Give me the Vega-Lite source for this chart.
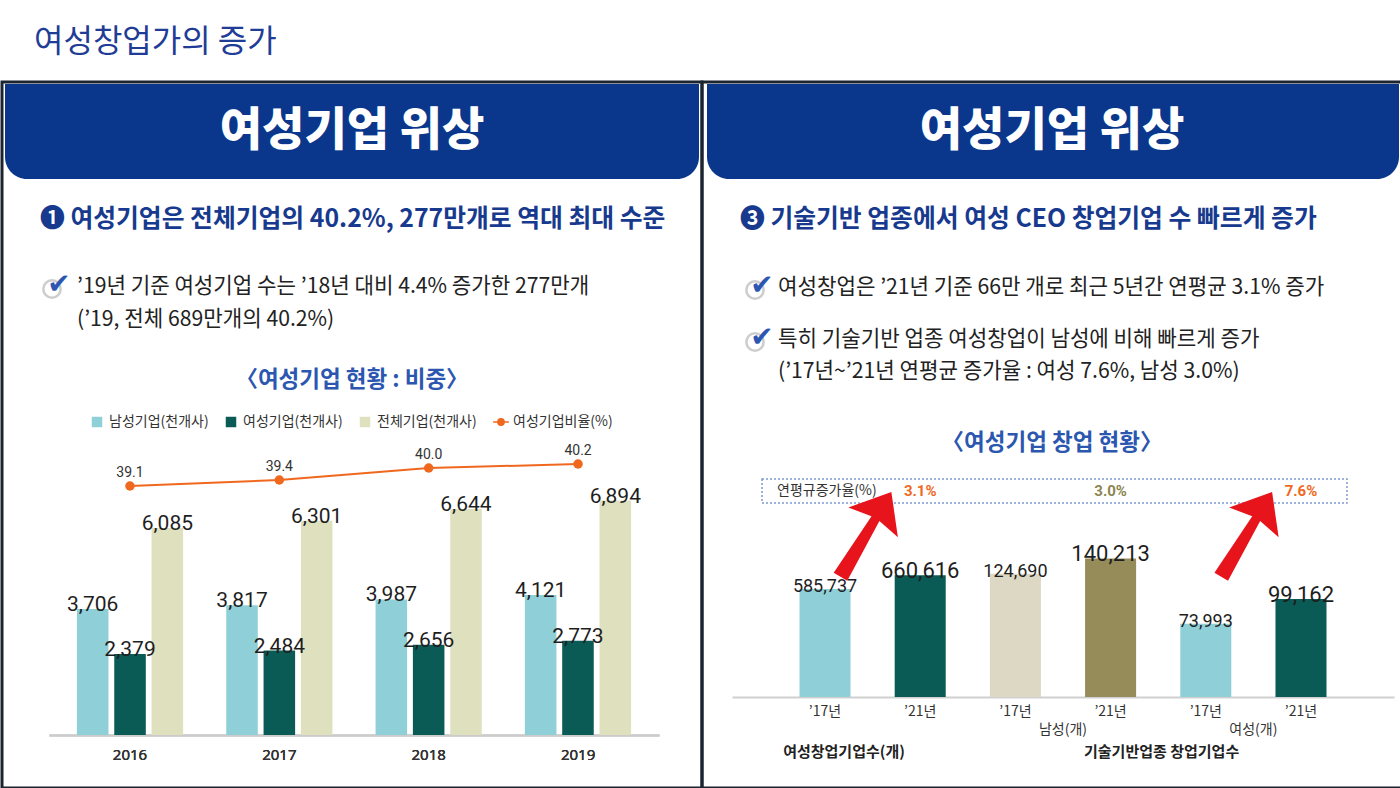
{
 "$schema": "https://vega.github.io/schema/vega-lite/v6.json",
 "padding": 0,
 "spacing": 0,
 "bounds": "flush",
 "background": "white",
 "config": {"view": {"stroke": null}, "font": "Noto Sans CJK KR", "concat": {"spacing": 0}},
 "datasets": {
  "companies": [
   {"year": "2016", "series": "남성기업(천개사)", "bar": "2016 남성", "value": 3706},
   {"year": "2016", "series": "여성기업(천개사)", "bar": "2016 여성", "value": 2379},
   {"year": "2016", "series": "전체기업(천개사)", "bar": "2016 전체", "value": 6085},
   {"year": "2017", "series": "남성기업(천개사)", "bar": "2017 남성", "value": 3817},
   {"year": "2017", "series": "여성기업(천개사)", "bar": "2017 여성", "value": 2484},
   {"year": "2017", "series": "전체기업(천개사)", "bar": "2017 전체", "value": 6301},
   {"year": "2018", "series": "남성기업(천개사)", "bar": "2018 남성", "value": 3987},
   {"year": "2018", "series": "여성기업(천개사)", "bar": "2018 여성", "value": 2656},
   {"year": "2018", "series": "전체기업(천개사)", "bar": "2018 전체", "value": 6644},
   {"year": "2019", "series": "남성기업(천개사)", "bar": "2019 남성", "value": 4121},
   {"year": "2019", "series": "여성기업(천개사)", "bar": "2019 여성", "value": 2773},
   {"year": "2019", "series": "전체기업(천개사)", "bar": "2019 전체", "value": 6894}
  ],
  "ratio": [
   {"year": "2016", "series": "여성기업비율(%)", "ratio": 39.1},
   {"year": "2017", "series": "여성기업비율(%)", "ratio": 39.4},
   {"year": "2018", "series": "여성기업비율(%)", "ratio": 40.0},
   {"year": "2019", "series": "여성기업비율(%)", "ratio": 40.2}
  ],
  "startup": [
   {"group": "여성창업", "year": "’17년", "bar": "여성창업 ’17년", "count": 585737},
   {"group": "여성창업", "year": "’21년", "bar": "여성창업 ’21년", "count": 660616},
   {"group": "남성", "year": "’17년", "bar": "남성 ’17년", "count": 124690},
   {"group": "남성", "year": "’21년", "bar": "남성 ’21년", "count": 140213},
   {"group": "여성", "year": "’17년", "bar": "여성 ’17년", "count": 73993},
   {"group": "여성", "year": "’21년", "bar": "여성 ’21년", "count": 99162}
  ],
  "rates": [
   {"group": "여성창업", "bar": "여성창업 ’21년", "rate": "3.1%"},
   {"group": "남성", "bar": "남성 ’21년", "rate": "3.0%"},
   {"group": "여성", "bar": "여성 ’21년", "rate": "7.6%"}
  ],
  "arrows": [
   {"bar": "여성창업 ’17년", "arrow": "➚"},
   {"bar": "여성 ’17년", "arrow": "➚"}
  ],
  "subgroups": [
   {"bar": "남성 ’17년", "t": "남성(개)"},
   {"bar": "여성 ’17년", "t": "여성(개)"}
  ]
 },
 "vconcat": [
  {
   "width": 1400, "height": 82,
   "data": {"values": [{"t": "여성창업가의 증가"}]},
   "mark": {"type": "text", "x": 32, "y": 42, "align": "left", "baseline": "middle", "fontSize": 32, "color": "#1f3c96"},
   "encoding": {"text": {"field": "t", "type": "nominal"}}
  },
  {
   "spacing": 0,
   "bounds": "flush",
   "hconcat": [
    {
     "width": 700, "height": 706,
     "view": {"stroke": "#1c2430", "strokeWidth": 3},
     "resolve": {"scale": {"x": "independent", "y": "independent"}},
     "layer": [
      {"data": {"values": [{}]}, "mark": {"type": "rect", "x": 3, "x2": 697, "y": 2, "y2": 97, "fill": "#0a378c", "cornerRadiusBottomLeft": 22, "cornerRadiusBottomRight": 22}, "encoding": {}},
      {"data": {"values": [{"t": "여성기업 위상"}]}, "mark": {"type": "text", "x": 350, "y": 49, "align": "center", "baseline": "middle", "fontSize": 46, "fontWeight": 900, "color": "#ffffff"}, "encoding": {"text": {"field": "t", "type": "nominal"}}},
      {"data": {"values": [{"t": "❶ 여성기업은 전체기업의 40.2%, 277만개로 역대 최대 수준"}]}, "mark": {"type": "text", "x": 38, "y": 138, "align": "left", "baseline": "middle", "fontSize": 24.8, "fontWeight": "bold", "color": "#173a8e"}, "encoding": {"text": {"field": "t", "type": "nominal"}}},
      {"data": {"values": [{}]}, "mark": {"type": "point", "shape": "circle", "x": 50, "y": 207, "size": 300, "filled": false, "stroke": "#b9b9b9", "strokeWidth": 2.5}, "encoding": {}},
      {"data": {"values": [{"t": "✔"}]}, "mark": {"type": "text", "x": 57, "y": 203, "align": "center", "baseline": "middle", "fontSize": 28, "color": "#2d56b3", "font": "DejaVu Sans"}, "encoding": {"text": {"field": "t", "type": "nominal"}}},
      {"data": {"values": [{"t": "’19년 기준 여성기업 수는 ’18년 대비 4.4% 증가한 277만개\n(’19, 전체 689만개의 40.2%)"}]}, "mark": {"type": "text", "x": 75, "y": 205, "align": "left", "baseline": "middle", "lineBreak": "\n", "lineHeight": 33, "fontSize": 21.2, "color": "#222222"}, "encoding": {"text": {"field": "t", "type": "nominal"}}},
      {"data": {"values": [{"t": "〈여성기업 현황 : 비중〉"}]}, "mark": {"type": "text", "x": 350, "y": 298, "align": "center", "baseline": "middle", "fontSize": 22.5, "fontWeight": "bold", "color": "#2b57b0"}, "encoding": {"text": {"field": "t", "type": "nominal"}}},
      {
       "data": {"name": "companies"},
       "mark": {"type": "bar"},
       "encoding": {
        "x": {"field": "bar", "type": "nominal", "axis": null,
              "scale": {"type": "band", "domain": ["2016 남성", "2016 여성", "2016 전체", "gap1", "2017 남성", "2017 여성", "2017 전체", "gap2", "2018 남성", "2018 여성", "2018 전체", "gap3", "2019 남성", "2019 여성", "2019 전체"], "range": [47, 657], "paddingInner": 0.155, "paddingOuter": 0.748}},
        "y": {"field": "value", "type": "quantitative", "scale": {"domain": [0, 7000], "range": [653, 415]}, "axis": null},
        "fill": {"field": "series", "type": "nominal",
                 "scale": {"domain": ["남성기업(천개사)", "여성기업(천개사)", "전체기업(천개사)", "여성기업비율(%)"], "range": ["#8fd0d8", "#0a5a55", "#dfe1be", "#f0681e"]},
                 "legend": {"orient": "none", "legendX": 88, "legendY": 415, "direction": "horizontal", "columns": 4, "title": null, "labelFontSize": 14, "labelColor": "#333333", "symbolType": "square", "symbolSize": 110, "columnPadding": 13, "gridAlign": "none", "labelOffset": 5,
                            "encode": {"symbols": {"update": {
                              "shape": {"signal": "datum.value === '여성기업비율(%)' ? 'M-1.5,0H1.5M-0.6,0A0.6,0.6,0,1,1,0.6,0A0.6,0.6,0,1,1,-0.6,0Z' : 'square'"},
                              "stroke": {"signal": "datum.value === '여성기업비율(%)' ? '#f0681e' : 'transparent'"},
                              "strokeWidth": {"value": 1.5}}}}}}
       }
      },
      {
       "data": {"name": "companies"},
       "mark": {"type": "text", "baseline": "alphabetic", "dy": 2, "fontSize": 21, "color": "#1e1e1e", "font": "Roboto"},
       "encoding": {
        "x": {"field": "bar", "type": "nominal", "axis": null,
              "scale": {"type": "band", "domain": ["2016 남성", "2016 여성", "2016 전체", "gap1", "2017 남성", "2017 여성", "2017 전체", "gap2", "2018 남성", "2018 여성", "2018 전체", "gap3", "2019 남성", "2019 여성", "2019 전체"], "range": [47, 657], "paddingInner": 0.155, "paddingOuter": 0.748}},
        "y": {"field": "value", "type": "quantitative", "scale": {"domain": [0, 7000], "range": [653, 415]}, "axis": null},
        "text": {"field": "value", "type": "quantitative", "format": ","}
       }
      },
      {
       "data": {"name": "ratio"},
       "mark": {"type": "line", "color": "#f0681e", "strokeWidth": 2},
       "encoding": {
        "x": {"field": "year", "type": "nominal", "scale": {"type": "band", "domain": ["2016", "2017", "2018", "2019"], "range": [47, 657], "paddingInner": 0, "paddingOuter": 0.042},
              "axis": {"orient": "bottom", "offset": -53, "domainColor": "#cccccc", "domainWidth": 2, "ticks": false, "labelPadding": 12, "labelFontSize": 15, "labelFontWeight": 400, "labelColor": "#333333", "labelFont": "Noto Sans", "labelAngle": 0, "title": null, "grid": false}},
        "y": {"field": "ratio", "type": "quantitative", "scale": {"domain": [26.65, 40.65], "range": [653, 373]}, "axis": null}
       }
      },
      {
       "data": {"name": "ratio"},
       "mark": {"type": "point", "filled": true, "size": 90, "opacity": 1},
       "encoding": {
        "x": {"field": "year", "type": "nominal", "scale": {"type": "band", "domain": ["2016", "2017", "2018", "2019"], "range": [47, 657], "paddingInner": 0, "paddingOuter": 0.042},
              "axis": {"orient": "bottom", "offset": -53, "domainColor": "#cccccc", "domainWidth": 2, "ticks": false, "labelPadding": 12, "labelFontSize": 15, "labelFontWeight": 400, "labelColor": "#333333", "labelFont": "Noto Sans", "labelAngle": 0, "title": null, "grid": false}},
        "y": {"field": "ratio", "type": "quantitative", "scale": {"domain": [26.65, 40.65], "range": [653, 373]}, "axis": null},
        "fill": {"field": "series", "type": "nominal"}
       }
      },
      {
       "data": {"name": "ratio"},
       "mark": {"type": "text", "baseline": "alphabetic", "dy": -9, "fontSize": 14, "color": "#333333", "font": "Roboto"},
       "encoding": {
        "x": {"field": "year", "type": "nominal", "scale": {"type": "band", "domain": ["2016", "2017", "2018", "2019"], "range": [47, 657], "paddingInner": 0, "paddingOuter": 0.042},
              "axis": {"orient": "bottom", "offset": -53, "domainColor": "#cccccc", "domainWidth": 2, "ticks": false, "labelPadding": 12, "labelFontSize": 15, "labelFontWeight": 400, "labelColor": "#333333", "labelFont": "Noto Sans", "labelAngle": 0, "title": null, "grid": false}},
        "y": {"field": "ratio", "type": "quantitative", "scale": {"domain": [26.65, 40.65], "range": [653, 373]}, "axis": null},
        "text": {"field": "ratio", "type": "quantitative", "format": ".1f"}
       }
      }
     ]
    },
    {
     "width": 700, "height": 706,
     "view": {"stroke": "#1c2430", "strokeWidth": 3},
     "resolve": {"scale": {"y": "independent"}},
     "layer": [
      {"data": {"values": [{}]}, "mark": {"type": "rect", "x": 5, "x2": 697, "y": 2, "y2": 97, "fill": "#0a378c", "cornerRadiusBottomLeft": 22, "cornerRadiusBottomRight": 22}, "encoding": {}},
      {"data": {"values": [{"t": "여성기업 위상"}]}, "mark": {"type": "text", "x": 350, "y": 49, "align": "center", "baseline": "middle", "fontSize": 46, "fontWeight": 900, "color": "#ffffff"}, "encoding": {"text": {"field": "t", "type": "nominal"}}},
      {"data": {"values": [{"t": "❸ 기술기반 업종에서 여성 CEO 창업기업 수 빠르게 증가"}]}, "mark": {"type": "text", "x": 38, "y": 138, "align": "left", "baseline": "middle", "fontSize": 24.8, "fontWeight": "bold", "color": "#173a8e"}, "encoding": {"text": {"field": "t", "type": "nominal"}}},
      {"data": {"values": [{}]}, "mark": {"type": "point", "shape": "circle", "x": 53, "y": 208, "size": 300, "filled": false, "stroke": "#b9b9b9", "strokeWidth": 2.5}, "encoding": {}},
      {"data": {"values": [{"t": "✔"}]}, "mark": {"type": "text", "x": 60, "y": 204, "align": "center", "baseline": "middle", "fontSize": 28, "color": "#2d56b3", "font": "DejaVu Sans"}, "encoding": {"text": {"field": "t", "type": "nominal"}}},
      {"data": {"values": [{}]}, "mark": {"type": "point", "shape": "circle", "x": 53, "y": 260, "size": 300, "filled": false, "stroke": "#b9b9b9", "strokeWidth": 2.5}, "encoding": {}},
      {"data": {"values": [{"t": "✔"}]}, "mark": {"type": "text", "x": 60, "y": 256, "align": "center", "baseline": "middle", "fontSize": 28, "color": "#2d56b3", "font": "DejaVu Sans"}, "encoding": {"text": {"field": "t", "type": "nominal"}}},
      {"data": {"values": [{"t": "여성창업은 ’21년 기준 66만 개로 최근 5년간 연평균 3.1% 증가"}]}, "mark": {"type": "text", "x": 76, "y": 206, "align": "left", "baseline": "middle", "fontSize": 21.2, "color": "#222222"}, "encoding": {"text": {"field": "t", "type": "nominal"}}},
      {"data": {"values": [{"t": "특히 기술기반 업종 여성창업이 남성에 비해 빠르게 증가\n(’17년~’21년 연평균 증가율 : 여성 7.6%, 남성 3.0%)"}]}, "mark": {"type": "text", "x": 76, "y": 258, "align": "left", "baseline": "middle", "lineBreak": "\n", "lineHeight": 32, "fontSize": 21.2, "color": "#222222"}, "encoding": {"text": {"field": "t", "type": "nominal"}}},
      {"data": {"values": [{"t": "〈여성기업 창업 현황〉"}]}, "mark": {"type": "text", "x": 350, "y": 361, "align": "center", "baseline": "middle", "fontSize": 22.5, "fontWeight": "bold", "color": "#2b57b0"}, "encoding": {"text": {"field": "t", "type": "nominal"}}},
      {"data": {"values": [{}]}, "mark": {"type": "rect", "x": 60, "x2": 645, "y": 397, "y2": 421, "fill": null, "fillOpacity": 0, "stroke": "#7d9bd3", "strokeWidth": 1.5, "strokeDash": [2, 2]}, "encoding": {}},
      {"data": {"values": [{"t": "연평규증가율(%)"}]}, "mark": {"type": "text", "x": 75, "y": 409, "align": "left", "baseline": "middle", "fontSize": 14, "color": "#333333"}, "encoding": {"text": {"field": "t", "type": "nominal"}}},
      {"data": {"values": [{}]}, "mark": {"type": "rule", "x": 266, "y": 445, "y2": 660, "stroke": "#b0b0b0", "strokeWidth": 1.5}, "encoding": {}},
      {
       "data": {"name": "startup"},
       "transform": [{"filter": "datum.group == '여성창업'"}],
       "mark": {"type": "bar"},
       "encoding": {
        "x": {"field": "bar", "type": "nominal", "scale": {"type": "band", "domain": ["여성창업 ’17년", "여성창업 ’21년", "남성 ’17년", "남성 ’21년", "여성 ’17년", "여성 ’21년"], "range": [30, 692], "paddingInner": 0.464, "paddingOuter": 0.709},
              "axis": {"orient": "bottom", "offset": -91, "domainColor": "#d0d0d0", "domainWidth": 2, "ticks": false, "labelExpr": "split(datum.value, ' ')[1]", "labelPadding": 7, "labelFontSize": 14, "labelFontWeight": 400, "labelColor": "#333333", "labelAngle": 0, "title": null, "grid": false}},
        "y": {"field": "count", "type": "quantitative", "scale": {"domain": [0, 700000], "range": [615, 486]}, "axis": null},
        "fill": {"condition": [{"test": "datum.group == '남성' && datum.year == '’17년'", "value": "#dcd8c3"}, {"test": "datum.group == '남성'", "value": "#958c5a"}, {"test": "datum.year == '’17년'", "value": "#8fd0d8"}], "value": "#0a5a55"}
       }
      },
      {
       "data": {"name": "startup"},
       "transform": [{"filter": "datum.group == '여성창업'"}],
       "mark": {"type": "text", "baseline": "alphabetic", "dy": 3, "color": "#1e1e1e", "font": "Roboto"},
       "encoding": {
        "x": {"field": "bar", "type": "nominal", "scale": {"type": "band", "domain": ["여성창업 ’17년", "여성창업 ’21년", "남성 ’17년", "남성 ’21년", "여성 ’17년", "여성 ’21년"], "range": [30, 692], "paddingInner": 0.464, "paddingOuter": 0.709},
              "axis": {"orient": "bottom", "offset": -91, "domainColor": "#d0d0d0", "domainWidth": 2, "ticks": false, "labelExpr": "split(datum.value, ' ')[1]", "labelPadding": 7, "labelFontSize": 14, "labelFontWeight": 400, "labelColor": "#333333", "labelAngle": 0, "title": null, "grid": false}},
        "y": {"field": "count", "type": "quantitative", "scale": {"domain": [0, 700000], "range": [615, 486]}, "axis": null},
        "text": {"field": "count", "type": "quantitative", "format": ","},
        "size": {"condition": {"test": "datum.year == '’21년'", "value": 22}, "value": 18}
       }
      },
      {
       "data": {"name": "startup"},
       "transform": [{"filter": "datum.group != '여성창업'"}],
       "mark": {"type": "bar"},
       "encoding": {
        "x": {"field": "bar", "type": "nominal", "scale": {"type": "band", "domain": ["여성창업 ’17년", "여성창업 ’21년", "남성 ’17년", "남성 ’21년", "여성 ’17년", "여성 ’21년"], "range": [30, 692], "paddingInner": 0.464, "paddingOuter": 0.709},
              "axis": {"orient": "bottom", "offset": -91, "domainColor": "#d0d0d0", "domainWidth": 2, "ticks": false, "labelExpr": "split(datum.value, ' ')[1]", "labelPadding": 7, "labelFontSize": 14, "labelFontWeight": 400, "labelColor": "#333333", "labelAngle": 0, "title": null, "grid": false}},
        "y": {"field": "count", "type": "quantitative", "scale": {"domain": [0, 150000], "range": [615, 466.7]}, "axis": null},
        "fill": {"condition": [{"test": "datum.group == '남성' && datum.year == '’17년'", "value": "#dcd8c3"}, {"test": "datum.group == '남성'", "value": "#958c5a"}, {"test": "datum.year == '’17년'", "value": "#8fd0d8"}], "value": "#0a5a55"}
       }
      },
      {
       "data": {"name": "startup"},
       "transform": [{"filter": "datum.group != '여성창업'"}],
       "mark": {"type": "text", "baseline": "alphabetic", "dy": 3, "color": "#1e1e1e", "font": "Roboto"},
       "encoding": {
        "x": {"field": "bar", "type": "nominal", "scale": {"type": "band", "domain": ["여성창업 ’17년", "여성창업 ’21년", "남성 ’17년", "남성 ’21년", "여성 ’17년", "여성 ’21년"], "range": [30, 692], "paddingInner": 0.464, "paddingOuter": 0.709},
              "axis": {"orient": "bottom", "offset": -91, "domainColor": "#d0d0d0", "domainWidth": 2, "ticks": false, "labelExpr": "split(datum.value, ' ')[1]", "labelPadding": 7, "labelFontSize": 14, "labelFontWeight": 400, "labelColor": "#333333", "labelAngle": 0, "title": null, "grid": false}},
        "y": {"field": "count", "type": "quantitative", "scale": {"domain": [0, 150000], "range": [615, 466.7]}, "axis": null},
        "text": {"field": "count", "type": "quantitative", "format": ","},
        "size": {"condition": {"test": "datum.year == '’21년'", "value": 22}, "value": 18}
       }
      },
      {
       "data": {"name": "rates"},
       "mark": {"type": "text", "y": 409, "baseline": "middle", "fontSize": 15, "fontWeight": "bold", "font": "Roboto"},
       "encoding": {
        "x": {"field": "bar", "type": "nominal", "scale": {"type": "band", "domain": ["여성창업 ’17년", "여성창업 ’21년", "남성 ’17년", "남성 ’21년", "여성 ’17년", "여성 ’21년"], "range": [30, 692], "paddingInner": 0.464, "paddingOuter": 0.709},
              "axis": {"orient": "bottom", "offset": -91, "domainColor": "#d0d0d0", "domainWidth": 2, "ticks": false, "labelExpr": "split(datum.value, ' ')[1]", "labelPadding": 7, "labelFontSize": 14, "labelFontWeight": 400, "labelColor": "#333333", "labelAngle": 0, "title": null, "grid": false}},
        "text": {"field": "rate", "type": "nominal"},
        "color": {"condition": {"test": "datum.group == '남성'", "value": "#8c8550"}, "value": "#f0681e"}
       }
      },
      {
       "data": {"name": "arrows"},
       "mark": {"type": "text", "y": 464, "dx": 42, "baseline": "middle", "align": "center", "fontSize": 135, "angle": -14, "color": "#e8141b", "font": "DejaVu Sans"},
       "encoding": {
        "x": {"field": "bar", "type": "nominal", "scale": {"type": "band", "domain": ["여성창업 ’17년", "여성창업 ’21년", "남성 ’17년", "남성 ’21년", "여성 ’17년", "여성 ’21년"], "range": [30, 692], "paddingInner": 0.464, "paddingOuter": 0.709},
              "axis": {"orient": "bottom", "offset": -91, "domainColor": "#d0d0d0", "domainWidth": 2, "ticks": false, "labelExpr": "split(datum.value, ' ')[1]", "labelPadding": 7, "labelFontSize": 14, "labelFontWeight": 400, "labelColor": "#333333", "labelAngle": 0, "title": null, "grid": false}},
        "text": {"field": "arrow", "type": "nominal"}
       }
      },
      {
       "data": {"name": "subgroups"},
       "mark": {"type": "text", "baseline": "middle", "dx": 47.6, "dy": 33, "fontSize": 14, "color": "#333333"},
       "encoding": {
        "x": {"field": "bar", "type": "nominal", "scale": {"type": "band", "domain": ["여성창업 ’17년", "여성창업 ’21년", "남성 ’17년", "남성 ’21년", "여성 ’17년", "여성 ’21년"], "range": [30, 692], "paddingInner": 0.464, "paddingOuter": 0.709},
              "axis": {"orient": "bottom", "offset": -91, "domainColor": "#d0d0d0", "domainWidth": 2, "ticks": false, "labelExpr": "split(datum.value, ' ')[1]", "labelPadding": 7, "labelFontSize": 14, "labelFontWeight": 400, "labelColor": "#333333", "labelAngle": 0, "title": null, "grid": false}},
        "y": {"datum": 0, "type": "quantitative", "scale": {"domain": [0, 150000], "range": [615, 466.7]}, "axis": null},
        "text": {"field": "t", "type": "nominal"}
       }
      },
      {
       "data": {"values": [{"bar": "여성창업 ’17년", "t": "여성창업기업수(개)"}]},
       "mark": {"type": "text", "baseline": "middle", "dy": 55, "dx": 19, "fontSize": 15, "fontWeight": "bold", "color": "#222222"},
       "encoding": {
        "x": {"field": "bar", "type": "nominal", "scale": {"type": "band", "domain": ["여성창업 ’17년", "여성창업 ’21년", "남성 ’17년", "남성 ’21년", "여성 ’17년", "여성 ’21년"], "range": [30, 692], "paddingInner": 0.464, "paddingOuter": 0.709},
              "axis": {"orient": "bottom", "offset": -91, "domainColor": "#d0d0d0", "domainWidth": 2, "ticks": false, "labelExpr": "split(datum.value, ' ')[1]", "labelPadding": 7, "labelFontSize": 14, "labelFontWeight": 400, "labelColor": "#333333", "labelAngle": 0, "title": null, "grid": false}},
        "y": {"datum": 0, "type": "quantitative", "scale": {"domain": [0, 150000], "range": [615, 466.7]}, "axis": null},
        "text": {"field": "t", "type": "nominal"}
       }
      },
      {
       "data": {"values": [{"bar": "남성 ’21년", "t": "기술기반업종 창업기업수"}]},
       "mark": {"type": "text", "baseline": "middle", "dy": 55, "dx": 51, "fontSize": 15, "fontWeight": "bold", "color": "#222222"},
       "encoding": {
        "x": {"field": "bar", "type": "nominal", "scale": {"type": "band", "domain": ["여성창업 ’17년", "여성창업 ’21년", "남성 ’17년", "남성 ’21년", "여성 ’17년", "여성 ’21년"], "range": [30, 692], "paddingInner": 0.464, "paddingOuter": 0.709},
              "axis": {"orient": "bottom", "offset": -91, "domainColor": "#d0d0d0", "domainWidth": 2, "ticks": false, "labelExpr": "split(datum.value, ' ')[1]", "labelPadding": 7, "labelFontSize": 14, "labelFontWeight": 400, "labelColor": "#333333", "labelAngle": 0, "title": null, "grid": false}},
        "y": {"datum": 0, "type": "quantitative", "scale": {"domain": [0, 150000], "range": [615, 466.7]}, "axis": null},
        "text": {"field": "t", "type": "nominal"}
       }
      }
     ]
    }
   ]
  }
 ]
}
